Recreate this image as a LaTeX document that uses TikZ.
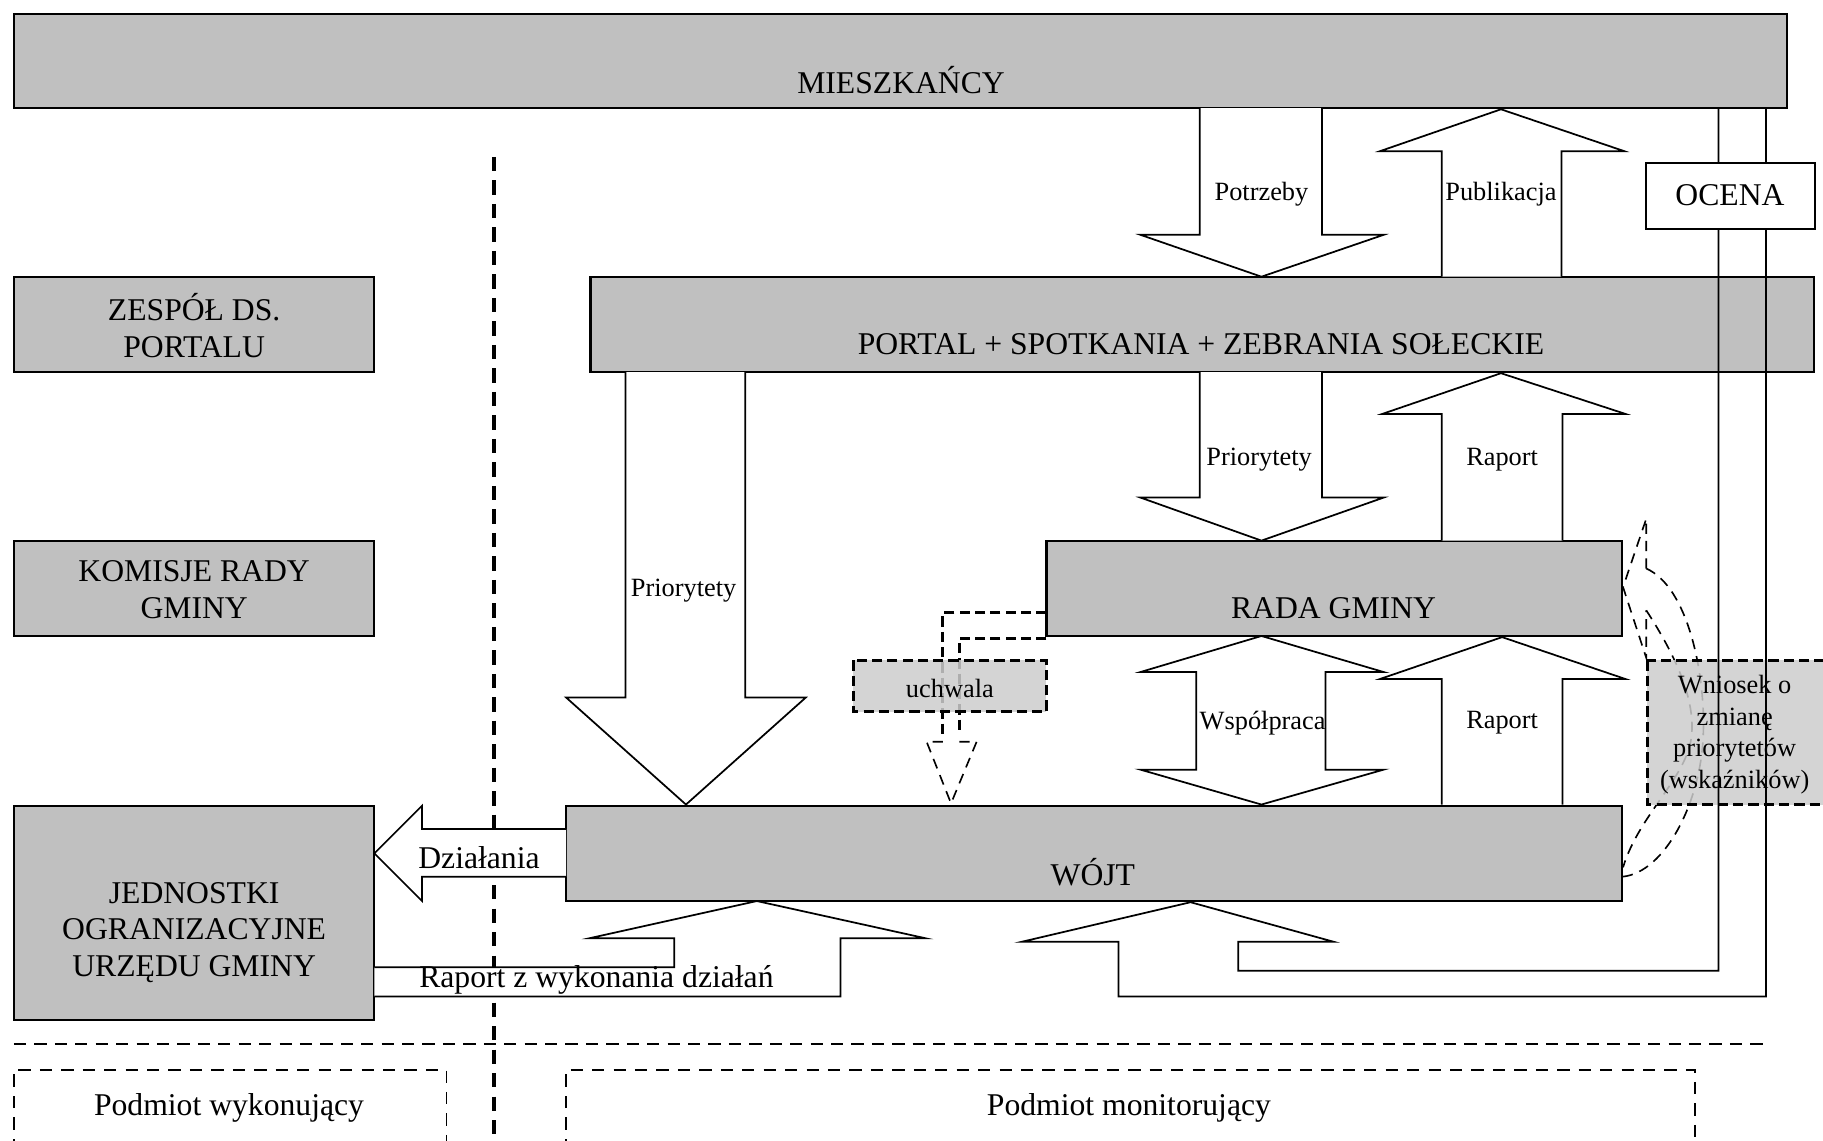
\documentclass[tikz,border=0pt]{standalone}
\usepackage{fontspec}
\setmainfont{Liberation Serif}
\definecolor{boxgray}{RGB}{192,192,192}
\definecolor{notegray}{RGB}{205,205,205}
\tikzset{
    box/.style={fill=boxgray,draw=black,line width=1.1pt},
    blockarrow/.style={fill=white,draw=black,line width=0.85pt,line join=miter},
    big/.style={font=\fontsize{15.5}{18}\selectfont,align=center,inner sep=0pt},
    small/.style={font=\fontsize{12.9}{15.5}\selectfont,align=center,inner sep=0pt},
    sep/.style={line width=1.7pt,dash pattern=on 7pt off 4.5pt},
    areabox/.style={line width=0.9pt,dash pattern=on 6pt off 4.5pt},
    notebox/.style={fill=notegray,fill opacity=0.85,draw=black,line width=1.5pt,dash pattern=on 5pt off 2.5pt},
    notearrow/.style={line width=0.8pt,dash pattern=on 5pt off 3.5pt}
}
\begin{document}
\begin{tikzpicture}[x=0.02cm,y=-0.02cm]
        \useasboundingbox (0,0) rectangle (1568,981);
        % separators
        \draw [sep] (425,135) -- (425,990);
        \draw [sep,line width=1.2pt,dash pattern=on 6pt off 4pt] (12,898) -- (1520,898);
        % boxes
        \draw [box] (12,12) rectangle (1537,93);
        \draw [box] (12,238) rectangle (322,320);
        \draw [box] (12,465) rectangle (322,547);
        \draw [box] (12,693) rectangle (322,877);
        \draw [box] (508,238) rectangle (1560,320);
        \draw [box] (900,465) rectangle (1395,547);
        \draw [box] (487,693) rectangle (1395,775);
        % block arrows
        \draw [blockarrow] (1032,93) -- (1032,202) -- (981,202) -- (1085,238) -- (1190,202) -- (1137,202) -- (1137,93);
        \draw [blockarrow] (1240,238) -- (1240,130) -- (1187,130) -- (1291,94) -- (1397,130) -- (1343,130) -- (1343,238);
        \draw [blockarrow] (1032,320) -- (1032,428) -- (981,428) -- (1085,465) -- (1190,428) -- (1137,428) -- (1137,320);
        \draw [blockarrow] (1240,465) -- (1240,356) -- (1189,356) -- (1291,321) -- (1398,356) -- (1344,356) -- (1344,465);
        \draw [blockarrow] (538,320) -- (538,600) -- (487,600) -- (590,692) -- (693,600) -- (641,600) -- (641,320);
        \draw [blockarrow] (1085,547) -- (1190,578) -- (1140,578) -- (1140,662) -- (1190,662) -- (1085,692)
            -- (981,662) -- (1029,662) -- (1029,578) -- (981,578) -- cycle;
        \draw [blockarrow] (1240,692) -- (1240,584) -- (1187,584) -- (1292,548) -- (1398,584) -- (1344,584) -- (1344,692);
        \draw [blockarrow] (487,713) -- (363,713) -- (363,693) -- (322,734) -- (363,775) -- (363,754) -- (487,754);
        \draw [blockarrow] (322,832) -- (580,832) -- (580,807) -- (507,807) -- (651,775) -- (796,807) -- (723,807)
            -- (723,857) -- (322,857);
        % uchwala
        \draw [line width=1.5pt,dash pattern=on 5pt off 2.5pt] (900,527) -- (811,527) -- (811,632);
        \draw [line width=1.5pt,dash pattern=on 5pt off 2.5pt] (900,549) -- (825,549) -- (825,632);
        \draw [notearrow] (811,638) -- (797,638) -- (818,691) -- (840,638) -- (825,638);
        \draw [notebox] (734,568) rectangle (900,612);
        % wniosek
        \draw [notearrow] (1416,489) -- (1416,446) -- (1396,505) -- (1416,566) -- (1416,525);
        \draw [notearrow] (1416,489) .. controls (1452,505) and (1467,580) .. (1465,632)
            .. controls (1463,690) and (1432,750) .. (1396,754);
        \draw [notearrow] (1416,525) .. controls (1440,562) and (1458,600) .. (1455,632)
            .. controls (1452,668) and (1410,700) .. (1396,746);
        \draw [notebox] (1417,568) rectangle (1580,692);
        % ocena
        \draw [line width=0.85pt] (1478,93) -- (1478,835) -- (1065,835) -- (1065,810) -- (1147,810) -- (1024,776)
            -- (879,810) -- (962,810) -- (962,857) -- (1519,857) -- (1519,93);
        \draw [fill=white,line width=0.9pt] (1416,140) rectangle (1561,197);
        % areas
        \draw [areabox] (12,990) -- (12,920) -- (384,920) -- (384,990);
        \draw [areabox] (487,990) -- (487,920) -- (1458,920) -- (1458,990);
        % texts
        \node [big] (mieszkancy) at (775,69) {MIESZKAŃCY};
        \node [big] (zespol) at (167,280) {ZESPÓŁ DS.\\PORTALU};
        \node [big] (komisje) at (167,507) {KOMISJE RADY\\GMINY};
        \node [big] (jednostki) at (167,802) {JEDNOSTKI\\OGRANIZACYJNE\\URZĘDU GMINY};
        \node [big] (portal) at (1033,296) {PORTAL + SPOTKANIA + ZEBRANIA SOŁECKIE};
        \node [big] (rada) at (1147,523) {RADA GMINY};
        \node [big] (wojt) at (940,750) {WÓJT};
        \node [big] (ocena) at (1488,168) {OCENA};
        \node [small] (potrzeby) at (1085,167) {Potrzeby};
        \node [small] (publikacja) at (1291,167) {Publikacja};
        \node [small] (prior1) at (1083,395) {Priorytety};
        \node [small] (raport1) at (1292,395) {Raport};
        \node [small] (prior2) at (588,508) {Priorytety};
        \node [small] (wspolpraca) at (1086,622) {Współpraca};
        \node [small] (raport2) at (1292,622) {Raport};
        \node [big] (dzialania) at (412,738) {Działania};
        \node [big] (raportwyk) at (513,843) {Raport z wykonania działań};
        \node [small] (uchwala) at (817,592) {uchwala};
        \node [small] (wniosek) at (1492,632) {Wniosek o\\zmianę\\priorytetów\\(wskaźników)};
        \node [big] (wykon) at (197,953) {Podmiot wykonujący};
        \node [big] (monitor) at (971,953) {Podmiot monitorujący};
\end{tikzpicture}
\end{document}
